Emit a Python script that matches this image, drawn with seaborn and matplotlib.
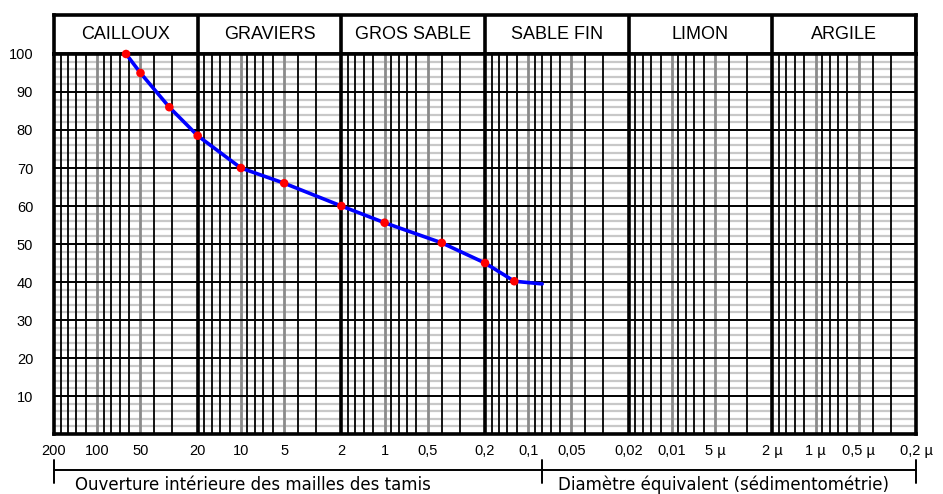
import numpy as np
import pandas as pd
import matplotlib
matplotlib.use("Agg")
import matplotlib.pyplot as plt
import matplotlib.transforms as mtransforms
from matplotlib.ticker import NullLocator
import seaborn as sns

# points de mesure : ouverture du tamis (mm) et passant cumulé (%)
diametres = [63, 50, 31.5, 20, 10, 5, 2, 1, 0.4, 0.2, 0.125]
passants = [100, 95, 86, 78.5, 70, 66, 60, 55.6, 50.3, 45, 40.2]
# la courbe se prolonge un peu au-delà du dernier point
fin_diam = [0.08]
fin_passant = [39.5]

classes = ["CAILLOUX", "GRAVIERS", "GROS SABLE", "SABLE FIN", "LIMON", "ARGILE"]
bornes = [200, 20, 2, 0.2, 0.02, 0.002, 0.0002]

ticks_x = [200, 100, 50, 20, 10, 5, 2, 1, 0.5, 0.2, 0.1, 0.05,
           0.02, 0.01, 0.005, 0.002, 0.001, 0.0005, 0.0002]
labels_x = ["200", "100", "50", "20", "10", "5", "2", "1", "0,5", "0,2", "0,1", "0,05",
            "0,02", "0,01", "5 µ", "2 µ", "1 µ", "0,5 µ", "0,2 µ"]
ticks_y = [10, 20, 30, 40, 50, 60, 70, 80, 90, 100]

limite_tamis = 0.08
titre_tamis = "Ouverture intérieure des mailles des tamis"
titre_sedim = "Diamètre équivalent (sédimentométrie)"

df_points = pd.DataFrame({"d": diametres, "p": passants})
df_courbe = pd.DataFrame({"d": diametres + fin_diam, "p": passants + fin_passant})

sns.set_style("white")
plt.rcParams['font.family'] = ['Liberation Sans', 'DejaVu Sans']
plt.rcParams['text.color'] = 'black'
plt.rcParams['xtick.color'] = 'black'
plt.rcParams['ytick.color'] = 'black'

W, H = 943, 494
fig = plt.figure(figsize=(W / 100, H / 100), dpi=100)
x0, x1 = 54, 916
ytop, ybot, yhdr = 54, 434, 15
hdr = fig.add_axes([x0 / W, (H - ytop) / H, (x1 - x0) / W, (ytop - yhdr) / H])
ax = fig.add_axes([x0 / W, (H - ybot) / H, (x1 - x0) / W, (ybot - ytop) / H])
ax.set_zorder(3)

xmin, xmax = bornes[0], bornes[-1]

# quadrillage
ax.set_xscale("log")
for y in range(2, 100, 2):
    if y % 10:
        ax.axhline(y, color="#c8c8c8", lw=1.6, zorder=0)
for top in bornes[:-1]:
    for m in [0.9, 0.8, 0.7, 0.6, 0.5, 0.45, 0.4, 0.35, 0.3, 0.25, 0.2, 0.15]:
        if m in (0.5, 0.25):
            ax.axvline(top * m, color="#8a8a8a", lw=2.0, zorder=1)
        else:
            ax.axvline(top * m, color="black", lw=1.3, zorder=1)
for y in ticks_y[:-1]:
    ax.axhline(y, color="black", lw=1.4, zorder=1)
for b in bornes[1:-1]:
    ax.axvline(b, color="black", lw=2.6, zorder=2)

sns.lineplot(data=df_courbe, x="d", y="p", color="#0000ff", lw=2.6,
             sort=False, estimator=None, ax=ax, zorder=4)
sns.scatterplot(data=df_points, x="d", y="p", color="#ff0000", s=38,
                edgecolor="none", marker="o", ax=ax, zorder=5, clip_on=False)

ax.set_xlim(xmin, xmax)
ax.set_ylim(0, 100)
ax.set_xticks(ticks_x, labels_x)
ax.xaxis.set_minor_locator(NullLocator())
ax.set_yticks(ticks_y)
ax.tick_params(axis="x", length=0, pad=7, labelsize=10.5, labelcolor="black")
ax.tick_params(axis="y", length=0, pad=15, labelsize=10.5, labelcolor="black")
ax.set_xlabel("")
ax.set_ylabel("")
for s in ax.spines.values():
    s.set_linewidth(2.6)
    s.set_color("black")

# bandeau des classes
hdr.set_xscale("log")
hdr.set_xlim(xmin, xmax)
hdr.set_ylim(0, 1)
hdr.xaxis.set_minor_locator(NullLocator())
hdr.set_xticks([])
hdr.set_yticks([])
for s in hdr.spines.values():
    s.set_linewidth(2.6)
    s.set_color("black")
for i, nom in enumerate(classes):
    hdr.axvline(bornes[i + 1], color="black", lw=2.6)
    hdr.text(np.sqrt(bornes[i] * bornes[i + 1]), 0.5, nom, ha="center", va="center",
             fontsize=13, color="black")

# accolades du bas
tr = mtransforms.blended_transform_factory(ax.transData, ax.transAxes)
yb = -(470 - ybot) / (ybot - ytop)
yt0 = -(460 - ybot) / (ybot - ytop)
yt1 = -(483 - ybot) / (ybot - ytop)
ax.plot([xmin, xmax], [yb, yb], color="black", lw=1.4, transform=tr, clip_on=False)
for xv in [xmin, limite_tamis, xmax]:
    ax.plot([xv, xv], [yt0, yt1], color="black", lw=1.4, transform=tr, clip_on=False)
ytxt = -(485 - ybot) / (ybot - ytop)
ax.text((75 - x0) / (x1 - x0), ytxt, titre_tamis, transform=ax.transAxes,
        ha="left", va="center", fontsize=12, family=["DejaVu Sans"], color="black")
ax.text((558 - x0) / (x1 - x0), ytxt, titre_sedim, transform=ax.transAxes,
        ha="left", va="center", fontsize=12, family=["DejaVu Sans"], color="black")

fig.savefig("out.png", dpi=100, facecolor="white")
